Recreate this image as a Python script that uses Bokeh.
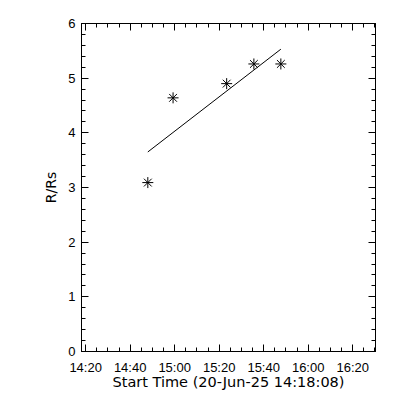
import numpy as np
import pandas as pd
from bokeh.plotting import figure
from bokeh.models import LinearAxis, FixedTicker, DatetimeTickFormatter, Range1d
from bokeh.embed import file_html
from bokeh.resources import INLINE

# Data
start_time = "2025-06-20 14:18:08"
end_time = "2025-06-20 16:30:15"
obs_times = ["14:47:56", "14:59:17", "15:23:22", "15:35:36", "15:47:43"]
obs_r = [3.09, 4.64, 4.90, 5.26, 5.26]
fit_times = ["14:47:56", "15:47:43"]
fit_r = [3.65, 5.53]
x_tick_labels = ["14:20", "14:40", "15:00", "15:20", "15:40", "16:00", "16:20"]
y_tick_values = [0, 1, 2, 3, 4, 5, 6]
x_title = "Start Time (20-Jun-25 14:18:08)"
y_title = "R/Rs"

day = "2025-06-20 "
def to_dt(ts):
    return pd.to_datetime([day + t for t in ts])

def to_ms(ts):
    return [(t - pd.Timestamp("1970-01-01")) / pd.Timedelta(milliseconds=1) for t in to_dt(ts)]

x_obs = to_dt(obs_times)
x_fit = to_dt(fit_times)

x_major = to_ms(x_tick_labels)
step = x_major[1] - x_major[0]
x_minor = [x_major[0] - step + k * step / 4 for k in range(4 * (len(x_major) + 1) + 1)]
y_minor = [v / 5 for v in range(0, 5 * y_tick_values[-1] + 1)]

TICK_FONT = "Liberation Sans"
TITLE_FONT = "DejaVu Sans"

p = figure(width=392, height=392, output_backend="svg", toolbar_location=None,
           x_axis_type="datetime",
           x_range=Range1d(pd.Timestamp(start_time), pd.Timestamp(end_time)),
           y_range=Range1d(0, 6),
           min_border_left=81, min_border_right=17, min_border_top=23, min_border_bottom=41)
p.background_fill_color = "white"
p.border_fill_color = "white"
p.outline_line_color = "black"
p.outline_line_width = 1
p.grid.visible = False

xticker = FixedTicker(ticks=x_major, minor_ticks=x_minor)
yticker = FixedTicker(ticks=y_tick_values, minor_ticks=y_minor)
fmt = DatetimeTickFormatter(minutes="%H:%M", hourmin="%H:%M", hours="%H:%M", minsec="%H:%M")

def style(ax, labels=True):
    ax.axis_line_color = "black"
    ax.major_tick_line_color = "black"
    ax.minor_tick_line_color = "black"
    ax.major_tick_in = 7
    ax.major_tick_out = 0
    ax.minor_tick_in = 4
    ax.minor_tick_out = 0
    ax.major_label_text_font = TICK_FONT
    ax.major_label_text_font_size = "13px"
    ax.major_label_text_color = "black"
    ax.axis_label_text_font = TITLE_FONT
    ax.axis_label_text_font_size = "14px"
    ax.axis_label_text_font_style = "normal"
    ax.axis_label_text_color = "black"
    if not labels:
        ax.major_label_text_font_size = "0px"
        ax.major_label_text_alpha = 0

xa = p.xaxis[0]
xa.ticker = xticker
xa.formatter = fmt
xa.axis_label = x_title
style(xa)
xa.axis_label_text_font_size = "14.5px"
xa.major_label_standoff = 8
xa.axis_label_standoff = -4

ya = p.yaxis[0]
ya.ticker = yticker
ya.axis_label = y_title
style(ya)
ya.major_label_standoff = 6
ya.axis_label_standoff = 6

top = LinearAxis(ticker=xticker)
style(top, labels=False)
top.major_label_standoff = 0
p.add_layout(top, "above")

right = LinearAxis(ticker=yticker)
style(right, labels=False)
right.major_label_standoff = 0
p.add_layout(right, "right")

p.line(x_fit, fit_r, line_color="black", line_width=1)
p.scatter(x_obs, obs_r, marker="asterisk", size=11, line_color="black", line_width=1)

open("out.html", "w").write(file_html(p, INLINE))
